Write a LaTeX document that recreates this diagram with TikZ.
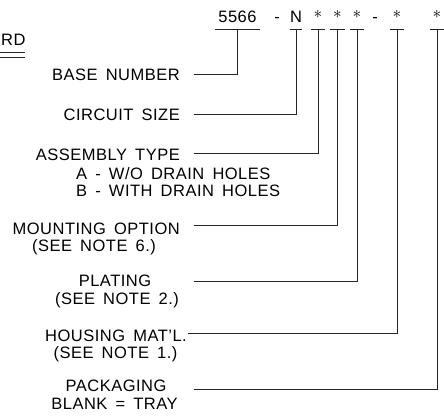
\documentclass[tikz,border=0pt]{standalone}
\usepackage{fontspec}
\setmainfont[LetterSpace=3,WordSpace=1.6]{Liberation Sans}
\usetikzlibrary{positioning}

\newcommand{\codestar}{\raisebox{4pt}{$\ast$}}

\tikzset{
  code/.style={inner sep=0pt, text depth=6pt, anchor=base},
  lbl/.style={inner sep=0pt, text height=12pt, text depth=0pt},
  lead/.style={line width=0.9pt, black!85},
}

\begin{document}
\begin{tikzpicture}[x=1pt,y=-1pt,font=\fontsize{16.5}{18}\selectfont]
\useasboundingbox (0,0) rectangle (444,417);
% part number
\node[code, minimum width=45pt] (base) at (237.5,23) {5566};
\node[code] (d1) at (277,23) {-};
\node[code, minimum width=12pt] (size) at (296,23) {N};
\node[code, minimum width=14pt] (st1) at (318,23) {\codestar};
\node[code, minimum width=14pt] (st2) at (337.5,23) {\codestar};
\node[code, minimum width=14pt] (st3) at (357,23) {\codestar};
\node[code] (d2) at (375,23) {-};
\node[code, minimum width=14pt] (st4) at (397,23) {\codestar};
\node[code, minimum width=14pt] (st5) at (437,23) {\codestar};
\foreach \n in {base,size,st1,st2,st3,st4,st5}
  \draw[lead] (\n.south west) -- (\n.south east);

% cut-off title
\node[lbl, anchor=west] (ttl) at (1,40) {RD};
\draw[lead] (0,52) -- (25,52);
\draw[lead] (0,57) -- (25,57);

% labels
\node[lbl, anchor=east] (bnum) at (180,75) {BASE NUMBER};
\node[lbl, anchor=east] (csize) at (180,115) {CIRCUIT SIZE};
\node[lbl, anchor=east] (atype) at (180,154) {ASSEMBLY TYPE};
\node[lbl, anchor=west] (atypeA) at (76,173) {A - W/O DRAIN HOLES};
\node[lbl, anchor=west] (atypeB) at (76,190) {B - WITH DRAIN HOLES};
\node[lbl, anchor=east] (mount) at (180,228) {MOUNTING OPTION};
\node[lbl] (mountN) at (94,245) {(SEE NOTE 6.)};
\node[lbl] (plat) at (115,280) {PLATING};
\node[lbl] (platN) at (117,298) {(SEE NOTE 2.)};
\node[lbl, anchor=east] (house) at (187,335) {HOUSING MAT'L.};
\node[lbl] (houseN) at (115.5,352) {(SEE NOTE 1.)};
\node[lbl] (pack) at (116,385) {PACKAGING};
\node[lbl] (packN) at (114.5,403) {BLANK = TRAY};

% leader ends
\coordinate (eBase) at (194,74);
\coordinate (eSize) at (194,114);
\coordinate (eType) at (194,153);
\coordinate (eMount) at (194,225);
\coordinate (ePlat) at (194,281);
\coordinate (eHouse) at (188,333);
\coordinate (ePack) at (194,389);

% leaders
\draw[lead] (base.south) |- (eBase);
\draw[lead] (size.south) |- (eSize);
\draw[lead] (st1.south) |- (eType);
\draw[lead] (st2.south) |- (eMount);
\draw[lead] (st3.south) |- (ePlat);
\draw[lead] (st4.south) |- (eHouse);
\draw[lead] (st5.south) |- (ePack);
\end{tikzpicture}
\end{document}
